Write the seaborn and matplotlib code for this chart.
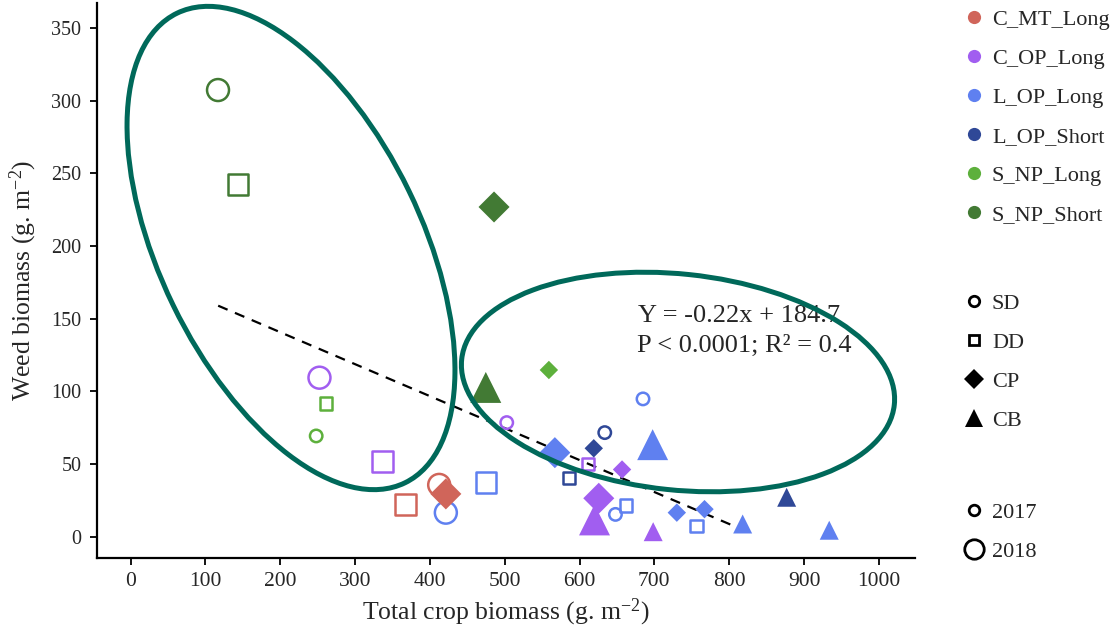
import matplotlib
matplotlib.use("Agg")
import matplotlib.pyplot as plt
import seaborn as sns
import pandas as pd
import numpy as np
from matplotlib.lines import Line2D
from matplotlib.patches import Ellipse

# ---------------- data ----------------
treatment = (["S_NP_Short"] * 4 + ["S_NP_Long"] * 3 + ["C_OP_Long"] * 8 +
             ["C_MT_Long"] * 3 + ["L_OP_Long"] * 12 + ["L_OP_Short"] * 4)
method = ["SD", "DD", "CP", "CB",
          "CP", "DD", "SD",
          "SD", "DD", "SD", "DD", "CP", "CP", "CB", "CB",
          "DD", "SD", "CP",
          "SD", "DD", "CP", "SD", "CB", "SD", "DD", "CP", "CP", "DD", "CB", "CB",
          "DD", "CP", "SD", "CB"]
year = ["2018", "2018", "2018", "2018",
        "2017", "2017", "2017",
        "2018", "2018", "2017", "2017", "2017", "2018", "2018", "2017",
        "2018", "2018", "2018",
        "2018", "2018", "2018", "2017", "2018", "2017", "2017", "2017", "2017", "2017", "2017", "2017",
        "2017", "2017", "2017", "2017"]
crop_biomass = [116.8, 143.5, 485.7, 474.7,
                559.0, 261.3, 248.0,
                252.4, 336.8, 502.7, 611.5, 656.8, 625.7, 620.0, 698.4,
                367.5, 412.4, 421.3,
                421.3, 474.7, 567.0, 684.8, 697.7, 648.0, 662.0, 730.0, 767.0, 756.0, 818.0, 933.7,
                586.0, 619.0, 633.7, 876.8]
weed_biomass = [307.4, 242.5, 226.9, 102.7,
                114.7, 91.8, 69.3,
                109.4, 51.6, 78.5, 50.0, 46.2, 26.4, 11.5, 3.4,
                22.3, 35.6, 29.4,
                16.5, 37.2, 57.8, 94.8, 63.3, 15.3, 21.5, 16.5, 18.9, 7.4, 8.7, 4.4,
                40.2, 60.8, 71.6, 27.1]

treatments = ["C_MT_Long", "C_OP_Long", "L_OP_Long", "L_OP_Short", "S_NP_Long", "S_NP_Short"]
treat_colors = ["#d0655a", "#a15ef0", "#5f80f0", "#2f4897", "#5db03c", "#427a34"]
methods = ["SD", "DD", "CP", "CB"]
years = ["2017", "2018"]
x_ticks = list(range(0, 1001, 100))
y_ticks = list(range(0, 351, 50))

fit_slope = -0.22
fit_intercept = 184.7
fit_x_range = [117, 817]
eq_line1 = "Y = -0.22x + 184.7"
eq_line2 = "P < 0.0001; R\u00b2 = 0.4"

df = pd.DataFrame({"treatment": treatment, "method": method, "year": year,
                   "crop": crop_biomass, "weed": weed_biomass})
palette = dict(zip(treatments, treat_colors))

# ---------------- style ----------------
sns.set_style("ticks")
plt.rcParams["font.family"] = ["Liberation Serif", "DejaVu Serif"]
plt.rcParams["mathtext.fontset"] = "custom"
plt.rcParams["mathtext.rm"] = "Liberation Serif"
plt.rcParams["mathtext.it"] = "Liberation Serif:italic"
plt.rcParams["mathtext.bf"] = "Liberation Serif:bold"

fig = plt.figure(figsize=(11.17, 6.29), dpi=100)
ax = fig.add_axes([0.0866, 0.1129, 0.7326, 0.8823])

marker_of = {"SD": "o", "DD": "s", "CP": "D", "CB": "^"}
sizes_of = {"SD": {"2017": 80, "2018": 250},
            "DD": {"2017": 81, "2018": 219},
            "CP": {"2017": 88, "2018": 250},
            "CB": {"2017": 187, "2018": 497}}
open_methods = {"SD", "DD"}

# regression line
fx = np.array(fit_x_range, dtype=float)
fy = fit_slope * fx + fit_intercept
sns.lineplot(x=fx, y=fy, ax=ax, color="black", lw=1.6, dashes=False, zorder=1)
ax.lines[-1].set_dashes((4.6, 3.6))

for m in methods:
    sub = df[df["method"] == m]
    sns.scatterplot(data=sub, x="crop", y="weed", hue="treatment", palette=palette,
                    size="year", sizes=sizes_of[m], marker=marker_of[m],
                    linewidth=0, legend=False, ax=ax, zorder=3)
    if m in open_methods:
        coll = ax.collections[-1]
        fc = coll.get_facecolors()
        coll.set_edgecolors(fc)
        coll.set_facecolors("none")
        coll.set_linewidths(1.8)

ax.set_xlim(-45.3, 1048.4)
ax.set_ylim(-14.7, 367.3)
ax.set_xticks(x_ticks)
ax.set_yticks(y_ticks)
for s in ["top", "right"]:
    ax.spines[s].set_visible(False)
for s in ["left", "bottom"]:
    ax.spines[s].set_linewidth(1.6)
    ax.spines[s].set_color("black")
ax.tick_params(axis="both", length=5, width=1.3, color="black", direction="out")
ax.tick_params(axis="x", labelsize=15.5, pad=5)
ax.tick_params(axis="y", labelsize=14.5, pad=6)
ax.set_xlabel(r"Total crop biomass (g. m$^{-2}$)", fontsize=18.5, labelpad=4)
ax.set_ylabel(r"Weed biomass (g. m$^{-2}$)", fontsize=18.5, labelpad=9)

# equation text
fig.text(638 / 1117, 1 - 322 / 629, eq_line1, fontsize=19, ha="left", va="baseline")
fig.text(636.7 / 1117, 1 - 352 / 629, eq_line2, fontsize=19, ha="left", va="baseline")

# legends
leg_kw = dict(loc="upper left", frameon=False, borderpad=0, borderaxespad=0,
              handlelength=1.0, handletextpad=0.3, labelspacing=0.83, fontsize=16,
              bbox_transform=fig.transFigure)
h1 = [Line2D([], [], ls="", marker="o", color=c, markersize=9.5, markeredgewidth=0)
      for c in treat_colors]
l1 = fig.legend(h1, treatments, bbox_to_anchor=(963 / 1117, 1 - 9.2 / 629), **leg_kw)

h2 = [Line2D([], [], ls="", marker="o", mfc="none", mec="black", mew=2, markersize=7.5),
      Line2D([], [], ls="", marker="s", mfc="none", mec="black", mew=2, markersize=7.5),
      Line2D([], [], ls="", marker="D", color="black", mew=0, markersize=10.5),
      Line2D([], [], ls="", marker="^", color="black", mew=0, markersize=12.5)]
l2 = fig.legend(h2, methods, bbox_to_anchor=(963 / 1117, 1 - 293.7 / 629), **leg_kw)

h3 = [Line2D([], [], ls="", marker="o", mfc="none", mec="black", mew=2, markersize=7.6),
      Line2D([], [], ls="", marker="o", mfc="none", mec="black", mew=2, markersize=14)]
l3 = fig.legend(h3, years, bbox_to_anchor=(963 / 1117, 1 - 502.7 / 629), **leg_kw)

# highlight ellipses (pixel-space overlay)
ov = fig.add_axes([0, 0, 1, 1], zorder=10)
ov.set_xlim(0, 1117)
ov.set_ylim(0, 629)
ov.axis("off")
ov.patch.set_alpha(0)
ov.add_patch(Ellipse((291, 629 - 248), 262, 522, angle=25.9, fill=False,
                     ec="#00695a", lw=3.6))
ov.add_patch(Ellipse((678, 629 - 382), 435, 216, angle=-6, fill=False,
                     ec="#00695a", lw=3.6))

fig.savefig("out.png", dpi=100)
